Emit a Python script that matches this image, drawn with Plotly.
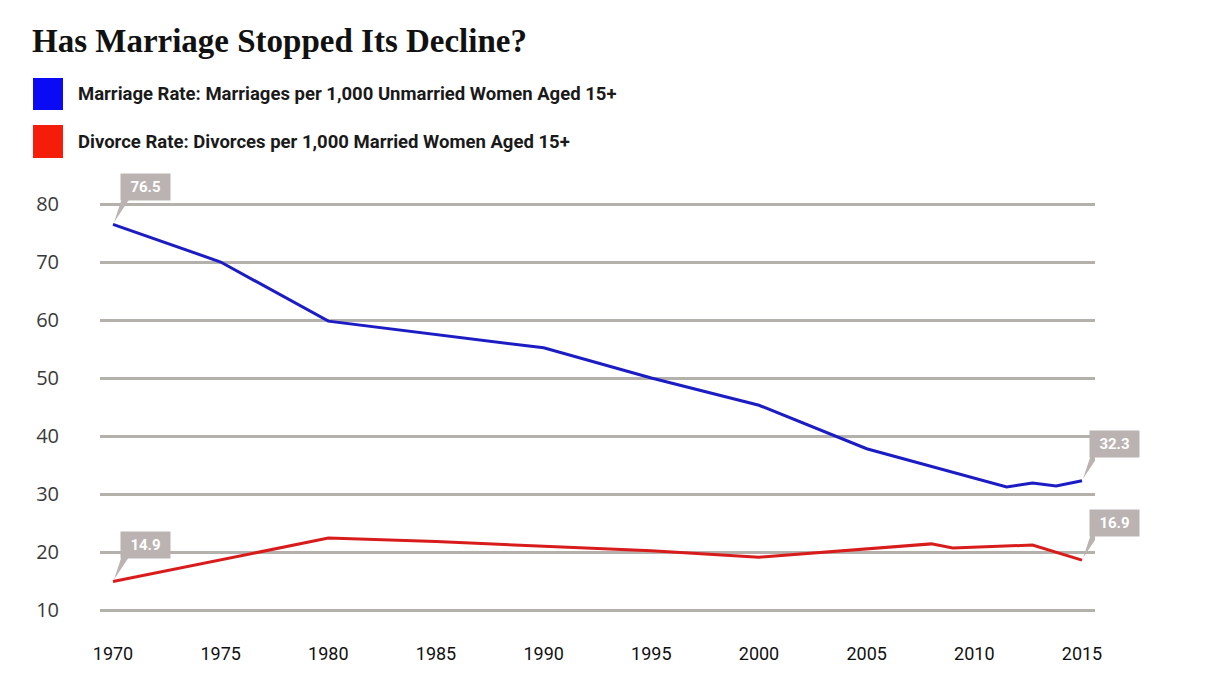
import plotly.graph_objects as go

# ---- data ----
years_marriage = [1970, 1975, 1980, 1990, 1995, 2000, 2005, 2011.5, 2012.7, 2013.8, 2015]
marriage_rate = [76.5, 70.0, 59.8, 55.2, 50.0, 45.3, 37.8, 31.2, 31.9, 31.4, 32.3]

years_divorce = [1970, 1980, 1985, 1990, 1995, 2000, 2005, 2008, 2009, 2012.7, 2015]
divorce_rate = [14.9, 22.4, 21.8, 21.0, 20.2, 19.1, 20.6, 21.4, 20.7, 21.2, 18.6]

x_ticks = [1970, 1975, 1980, 1985, 1990, 1995, 2000, 2005, 2010, 2015]
y_ticks = [10, 20, 30, 40, 50, 60, 70, 80]

marriage_label = "Marriage Rate: Marriages per 1,000 Unmarried Women Aged 15+"
divorce_label = "Divorce Rate: Divorces per 1,000 Married Women Aged 15+"
title_text = "Has Marriage Stopped Its Decline?"
callout_labels = ["76.5", "32.3", "14.9", "16.9"]

# ---- layout geometry ----
W, H = 1224, 696
OFF = 8  # page body margin in the browser
PL, PR, PT, PB = 100 - OFF, 1095 - OFF, 190 - OFF, 625 - OFF  # plot area in pixels

BLUE = "#1c1cc4"
RED = "#d81c1c"
GRID = "#b4b0ac"
CALLOUT = "#bbb3b2"
NARROW = "Liberation Sans Narrow, Roboto, Arial Narrow, sans-serif"


def paper_x(px):
    return (px - OFF - PL) / (PR - PL)


def paper_y(py):
    return (PB - (py - OFF)) / (PB - PT)


fig = go.Figure()
fig.add_trace(go.Scatter(x=years_marriage, y=marriage_rate, mode="lines",
                         line=dict(color=BLUE, width=3), hoverinfo="x+y",
                         name=marriage_label, showlegend=False))
fig.add_trace(go.Scatter(x=years_divorce, y=divorce_rate, mode="lines",
                         line=dict(color=RED, width=3), hoverinfo="x+y",
                         name=divorce_label, showlegend=False))

shapes = []
annotations = []

# callouts
callout_points = [
    (years_marriage[0], marriage_rate[0]),
    (years_marriage[-1], marriage_rate[-1]),
    (years_divorce[0], divorce_rate[0]),
    (years_divorce[-1], divorce_rate[-1]),
]
for (cx, cy), lab in zip(callout_points, callout_labels):
    annotations.append(dict(
        x=cx, y=cy, xref="x", yref="y", text="<b>%s</b>" % lab, showarrow=False,
        xshift=32.5, yshift=37, width=47, height=24, bgcolor=CALLOUT,
        font=dict(family=NARROW, size=15, color="white"), align="center",
        valign="middle"))
    shapes.append(dict(
        type="path", xref="x", yref="y", xsizemode="pixel", ysizemode="pixel",
        xanchor=cx, yanchor=cy, path="M 9,26 L 17,26 L 1,2 Z",
        fillcolor=CALLOUT, line=dict(width=0), layer="above"))

# legend squares and labels
for (y_top, y_bot, color, lab) in [(78, 110, "#0a0af5", marriage_label),
                                   (125, 158, "#f51c0a", divorce_label)]:
    shapes.append(dict(type="rect", xref="paper", yref="paper",
                       x0=paper_x(33), x1=paper_x(63),
                       y0=paper_y(y_bot), y1=paper_y(y_top),
                       fillcolor=color, line=dict(width=0)))
    annotations.append(dict(
        x=paper_x(76), y=paper_y((y_top + y_bot) / 2), xref="paper", yref="paper",
        xanchor="left", yanchor="middle", showarrow=False,
        text="<b>%s</b>" % lab,
        font=dict(family=NARROW, size=18.5, color="#1a1a1a")))

x_per_year = (1082 - 113) / 45.0
x_range = [1970 - (113 - 100) / x_per_year, 2015 + (1095 - 1082) / x_per_year]
y_per_unit = (610 - 204) / 70.0
y_range = [10 - (625 - 610) / y_per_unit, 80 + (204 - 190) / y_per_unit]

fig.update_layout(
    width=W, height=H,
    margin=dict(l=PL, r=W - PR, t=PT, b=H - PB, pad=0),
    paper_bgcolor="white", plot_bgcolor="white",
    title=dict(text="<b>%s</b>" % title_text, x=(32 - OFF) / W, xanchor="left",
               y=1 - (40 - OFF) / H, yanchor="middle",
               font=dict(family="Liberation Serif, DejaVu Serif, serif", size=33,
                         color="#111111")),
    xaxis=dict(range=x_range, tickvals=x_ticks, showgrid=False, zeroline=False,
               showline=False, ticks="", ticklabelstandoff=16,
               tickfont=dict(family=NARROW, size=18, color="#111111")),
    yaxis=dict(range=y_range, tickvals=y_ticks, showgrid=True, gridcolor=GRID,
               gridwidth=3, zeroline=False, showline=False, ticks="",
               ticklabelstandoff=40,
               tickfont=dict(family="Open Sans, sans-serif", size=20,
                             color="#3a3a3a")),
    shapes=shapes, annotations=annotations, showlegend=False,
)

fig.write_html("out.html")
